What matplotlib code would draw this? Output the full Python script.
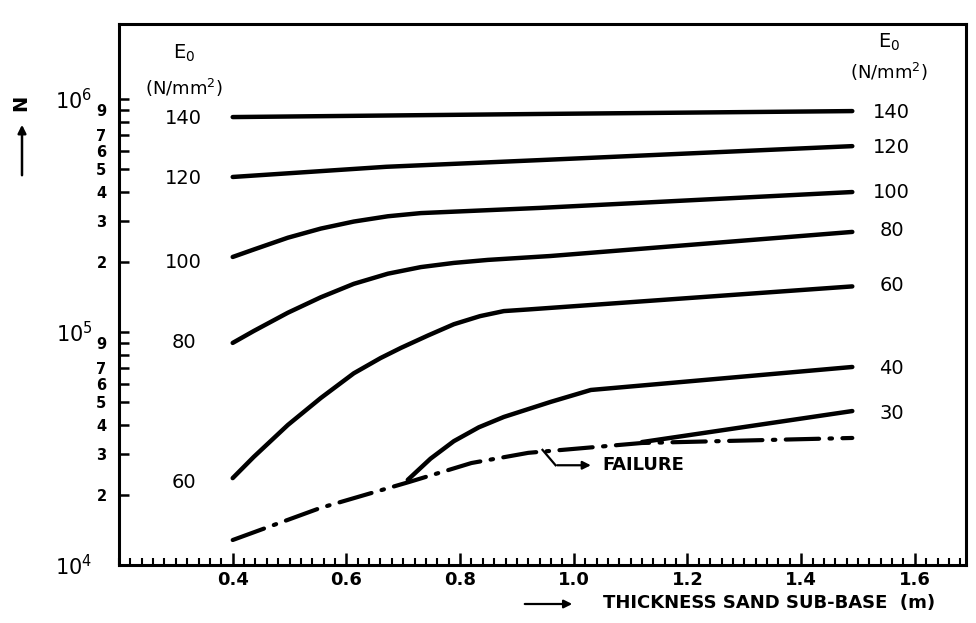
import numpy as np
import matplotlib
matplotlib.use("Agg")
import matplotlib.pyplot as plt
from matplotlib.ticker import FixedLocator, FuncFormatter, MultipleLocator

# curves: thickness (m) vs N, one per E0 (N/mm2)
x_140 = [0.40, 0.94, 1.49]
n_140 = [8.37e5, 8.63e5, 8.88e5]
x_120 = [0.40, 0.67, 0.94, 1.49]
n_120 = [4.63e5, 5.12e5, 5.47e5, 6.28e5]
x_100 = [0.40, 0.437, 0.497, 0.555, 0.613, 0.673, 0.731, 0.94, 1.49]
n_100 = [2.10e5, 2.26e5, 2.54e5, 2.78e5, 2.98e5, 3.14e5, 3.24e5, 3.41e5, 3.99e5]
x_80 = [0.40, 0.437, 0.497, 0.555, 0.613, 0.673, 0.731, 0.789, 0.849, 0.959, 1.49]
n_80 = [8.98e4, 1.01e5, 1.21e5, 1.41e5, 1.61e5, 1.78e5, 1.90e5, 1.98e5, 2.04e5,
        2.12e5, 2.69e5]
x_60 = [0.40, 0.437, 0.497, 0.555, 0.613, 0.66, 0.696, 0.743, 0.789, 0.835,
        0.877, 0.92, 1.49]
n_60 = [2.36e4, 2.91e4, 3.99e4, 5.21e4, 6.65e4, 7.73e4, 8.55e4, 9.65e4, 1.08e5,
        1.17e5, 1.23e5, 1.25e5, 1.57e5]
x_40 = [0.708, 0.748, 0.789, 0.833, 0.877, 0.959, 1.03, 1.49]
n_40 = [2.32e4, 2.86e4, 3.40e4, 3.90e4, 4.32e4, 5.01e4, 5.64e4, 7.08e4]
x_30 = [1.12, 1.49]
n_30 = [3.37e4, 4.58e4]
x_fail = [0.40, 0.555, 0.71, 0.82, 0.92, 1.12, 1.49]
n_fail = [1.28e4, 1.76e4, 2.27e4, 2.74e4, 3.03e4, 3.34e4, 3.51e4]

curves = [(x_140, n_140), (x_120, n_120), (x_100, n_100), (x_80, n_80),
          (x_60, n_60), (x_40, n_40), (x_30, n_30)]

# curve labels
left_labels = ['140', '120', '100', '80', '60']
left_label_n = [8.28e5, 4.58e5, 1.98e5, 8.98e4, 2.27e4]
right_labels = ['140', '120', '100', '80', '60', '40', '30']
right_label_n = [8.79e5, 6.22e5, 3.99e5, 2.74e5, 1.59e5, 7.0e4, 4.49e4]

# axis ticks
x_major = [0.4, 0.6, 0.8, 1.0, 1.2, 1.4, 1.6]
y_major = [1e4, 1e5, 1e6]
y_minor = [m * 10.0 ** e for e in (4, 5) for m in range(2, 10)]
y_minor_labels = {2: '2', 3: '3', 4: '4', 5: '5', 6: '6', 7: '7', 8: '', 9: '9'}

fig = plt.figure(figsize=(9.76, 6.23), dpi=100)
ax = fig.add_axes([119 / 976, 1 - 565 / 623, (966 - 119) / 976, (565 - 24) / 623])

for xs, ns in curves:
    ax.plot(xs, ns, color='black', lw=3.2, solid_capstyle='round',
            solid_joinstyle='round')
ax.plot(x_fail, n_fail, color='black', lw=3.0, dashes=(8, 2.5, 0.6, 2.5),
        dash_capstyle='round')

ax.set_yscale('log')
ax.set_xlim(0.2, 1.69)
ax.set_ylim(1e4, 2.1e6)

for s in ax.spines.values():
    s.set_linewidth(2.2)

ax.xaxis.set_major_locator(FixedLocator(x_major))
ax.xaxis.set_minor_locator(MultipleLocator(0.02))
ax.xaxis.set_major_formatter(FuncFormatter(lambda v, p: f'{v:.1f}'))
ax.tick_params(axis='x', which='major', direction='in', length=9, width=1.8,
               pad=4, labelsize=13)
ax.tick_params(axis='x', which='minor', direction='in', length=5, width=1.5)

ax.yaxis.set_major_locator(FixedLocator(y_major))
ax.yaxis.set_minor_locator(FixedLocator(y_minor))
ax.yaxis.set_major_formatter(
    FuncFormatter(lambda v, p: r'$\mathregular{10^{%d}}$' % round(np.log10(v))))


def minor_fmt(v, p):
    m = int(round(v / 10 ** np.floor(np.log10(v) + 1e-9)))
    return y_minor_labels.get(m, '')


ax.yaxis.set_minor_formatter(FuncFormatter(minor_fmt))
ax.tick_params(axis='y', which='major', direction='in', length=7, width=1.8,
               pad=19, labelsize=15)
ax.tick_params(axis='y', which='minor', direction='in', length=7, width=1.8,
               pad=9, labelsize=10.5)
for t in ax.get_xticklabels() + ax.get_yticklabels(which='minor'):
    t.set_fontweight('bold')

# curve labels
for lab, n in zip(left_labels, left_label_n):
    ax.text(0.314, n, lab, fontsize=14, ha='center', va='center')
for lab, n in zip(right_labels, right_label_n):
    ax.text(1.559, n, lab, fontsize=14, ha='center', va='center')

# E0 headers
ax.text(0.314, 0.946, r'E$_\mathregular{0}$', transform=ax.get_xaxis_transform(),
        fontsize=14, ha='center', va='center')
ax.text(0.314, 0.882, r'(N/mm$^\mathregular{2}$)', transform=ax.get_xaxis_transform(),
        fontsize=13, ha='center', va='center')
ax.text(1.554, 0.967, r'E$_\mathregular{0}$', transform=ax.get_xaxis_transform(),
        fontsize=14, ha='center', va='center')
ax.text(1.554, 0.911, r'(N/mm$^\mathregular{2}$)', transform=ax.get_xaxis_transform(),
        fontsize=13, ha='center', va='center')

# failure pointer
ax.plot([0.945, 0.968], [3.12e4, 2.68e4], color='black', lw=1.6)
ax.annotate('', xy=(1.035, 2.68e4), xytext=(0.966, 2.68e4),
            arrowprops=dict(arrowstyle='-|>', color='black', lw=1.6,
                            mutation_scale=12))
ax.text(1.05, 2.68e4, 'FAILURE', fontsize=13, fontweight='bold',
        ha='left', va='center')

# axis titles with arrows
fig.text(603 / 976, 1 - 603 / 623, 'THICKNESS SAND SUB-BASE  (m)', fontsize=13,
         fontweight='bold', ha='left', va='center')
ax.annotate('', xy=(575, 623 - 604), xytext=(522, 623 - 604),
            xycoords='figure pixels', textcoords='figure pixels',
            arrowprops=dict(arrowstyle='-|>', color='black', lw=1.6,
                            mutation_scale=12))
fig.text(21 / 976, 1 - 103 / 623, 'N', fontsize=14, fontweight='bold',
         rotation=90, ha='center', va='center')
ax.annotate('', xy=(22, 623 - 122), xytext=(22, 623 - 178),
            xycoords='figure pixels', textcoords='figure pixels',
            arrowprops=dict(arrowstyle='-|>', color='black', lw=1.8,
                            mutation_scale=12))

fig.savefig('out.png', dpi=100)
